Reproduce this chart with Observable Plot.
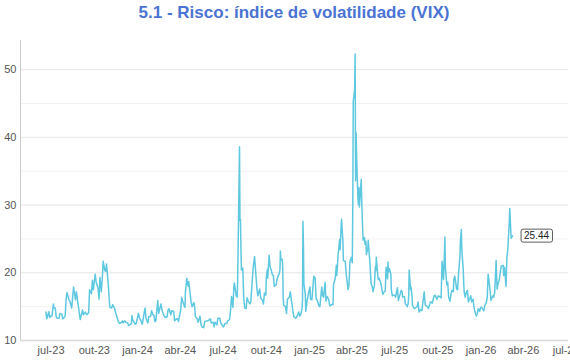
<!DOCTYPE html>
<html><head><meta charset="utf-8">
<script src="https://cdn.jsdelivr.net/npm/d3@7"></script>
<script src="https://cdn.jsdelivr.net/npm/@observablehq/plot@0.6"></script>
<style>
body{margin:0;background:#fff;font-family:"Liberation Sans",Arial,sans-serif;}
#title{height:30px;line-height:26px;margin-left:20px;width:548px;text-align:center;font-weight:bold;font-size:17px;color:#4b73d3;}
</style></head><body>
<div id="title">5.1 - Risco: índice de volatilidade (VIX)</div>
<div id="chart"></div>
<script>
const months = ["2023-06","2023-07","2023-08","2023-09","2023-10","2023-11","2023-12",
"2024-01","2024-02","2024-03","2024-04","2024-05","2024-06","2024-07","2024-08","2024-09","2024-10","2024-11","2024-12",
"2025-01","2025-02","2025-03","2025-04","2025-05","2025-06","2025-07","2025-08","2025-09","2025-10","2025-11","2025-12",
"2026-01","2026-02","2026-03"];
const days = [
[20,22,26,28,30],
[3,6,7,10,12,14,18,20,24,26,28,31],
[2,4,8,10,14,16,18,22,24,28,30],
[1,6,8,12,15,19,21,25,27,29],
[3,5,9,11,13,16,18,20,23,25,27,31],
[1,3,7,9,13,15,17,21,24,28,30],
[1,5,7,11,13,15,19,20,22,27,29],
[3,5,9,11,17,19,23,25,29,31],
[2,5,7,9,13,15,20,22,26,29],
[4,6,8,12,14,18,20,22,26,28],
[2,4,5,9,11,12,15,16,18,19,22,24,26,30],
[2,3,7,9,13,15,17,21,23,28,30],
[4,6,10,12,14,18,20,24,26,28],
[2,5,9,11,15,17,19,22,24,25,29,31],
[1,2,5,6,7,8,9,12,14,16,19,21,23,27,29],
[3,4,6,9,11,13,17,19,23,25,27,30],
[1,3,4,7,9,11,14,16,18,22,24,28,30,31],
[1,4,5,6,7,11,13,15,19,21,25,27,29],
[3,5,9,11,13,16,17,18,19,20,23,24,27,31],
[2,3,6,8,10,13,15,17,21,23,27,29,31],
[3,5,7,11,13,18,20,21,24,25,27,28],
[3,4,6,7,10,11,13,14,18,20,24,26,28,31],
[1,2,3,4,7,8,9,10,11,14,15,16,17,21,22,23,24,25,28,29,30],
[1,2,5,6,7,9,12,13,15,16,19,21,22,23,27,29],
[2,4,6,9,11,13,16,17,18,20,23,24,26,30],
[2,3,7,9,11,15,17,18,22,24,28,30,31],
[1,4,5,7,8,12,14,18,20,22,26,28],
[2,4,5,9,11,15,17,19,23,25,29,30],
[2,6,8,10,13,14,16,17,20,22,24,27,29,31],
[3,4,6,7,10,12,14,17,18,20,21,24,25,26,28],
[1,3,5,8,10,12,15,17,19,22,24,26,29,31],
[2,5,7,9,12,14,16,20,22,26,28,30],
[2,4,6,9,11,13,17,18,20,23,25,27],
[2,3,5,6,9]
];
const vix = [
[14.2,13.2,14.25,13.4,13.6],
[13.6,15.4,14.8,14.8,13.5,13.3,13.3,14.0,13.9,13.2,13.3,13.6],
[16.1,17.1,16.0,15.8,14.8,16.5,17.9,16.0,17.2,15.1,14.1],
[13.1,14.5,13.8,14.2,13.8,14.1,17.5,16.9,18.9,17.5],
[19.8,18.6,17.7,16.1,19.3,17.2,19.2,21.7,20.4,20.2,21.3,18.1],
[16.9,14.9,14.8,15.3,14.8,14.2,13.8,12.8,12.5,12.7,12.9],
[12.6,12.9,12.7,12.6,12.2,12.3,12.5,13.7,13.0,12.4,12.45],
[14.0,13.4,12.8,12.4,14.8,13.3,12.6,13.5,13.6,14.4],
[13.9,13.7,12.8,12.9,15.9,14.0,15.4,14.5,13.7,13.4],
[13.5,14.5,14.7,13.8,14.4,14.3,12.9,13.1,13.2,12.8],
[14.6,16.4,16.0,15.2,14.9,17.3,19.2,18.4,18.0,18.7,16.9,15.7,15.0,15.6],
[14.7,13.5,13.2,12.7,13.6,12.4,12.0,11.9,12.8,12.9,12.9],
[13.2,12.6,12.7,12.0,12.7,12.3,13.3,13.3,12.6,12.4],
[12.0,12.5,12.5,12.9,13.1,14.5,16.5,14.9,18.0,18.5,16.6,16.4],
[18.6,23.4,38.6,27.7,27.9,23.8,20.4,20.7,16.2,14.8,14.7,16.3,15.9,15.4,15.65],
[20.7,21.3,22.4,19.5,17.7,16.6,17.6,16.3,15.9,15.4,17.0,16.7],
[19.3,20.5,19.2,22.6,20.9,20.5,19.7,19.6,18.0,18.2,19.1,19.8,20.35,23.2],
[21.9,22.0,20.5,16.3,15.2,15.0,14.0,16.1,16.4,17.2,15.2,14.1,13.5],
[13.3,13.5,14.2,13.6,13.8,14.7,15.9,27.6,24.1,18.4,16.8,14.3,15.95,17.35],
[17.9,16.1,16.0,17.7,19.5,19.2,16.1,16.0,15.1,15.0,17.9,16.6,16.4],
[18.6,15.8,16.5,16.0,15.1,15.35,15.3,18.2,19.0,19.4,21.1,19.6],
[22.8,23.5,24.9,23.4,27.9,26.9,24.7,21.8,21.7,19.8,17.5,18.3,21.7,22.3],
[21.8,21.5,30.0,45.3,47.0,52.3,33.6,40.7,37.6,30.9,30.1,32.6,29.7,33.8,30.6,28.5,26.5,24.8,25.2,24.2,24.7],
[24.6,22.7,23.6,24.8,23.6,21.9,18.4,18.2,17.8,17.2,18.1,20.9,20.3,22.3,19.0,19.2],
[18.4,17.6,16.8,17.2,17.3,20.8,19.1,21.6,20.1,20.6,19.8,17.5,16.6,16.7],
[16.6,16.4,17.8,15.9,16.4,17.4,17.2,16.4,16.5,15.4,15.0,15.5,16.7],
[20.4,17.5,17.9,16.6,15.2,14.7,14.8,15.0,15.7,14.2,14.6,14.4],
[17.2,15.3,15.2,15.0,14.7,15.7,15.7,15.5,16.6,16.7,16.1,16.3],
[16.6,16.4,16.3,21.7,19.0,20.8,25.3,20.8,18.2,18.6,16.4,15.8,16.9,17.4],
[17.2,19.0,19.5,19.1,17.6,17.5,19.8,22.4,24.7,26.4,23.4,20.5,18.6,17.2,16.4],
[17.2,17.4,15.7,16.2,16.6,15.7,16.1,14.9,14.2,13.6,14.0,14.7,14.3,14.9],
[14.9,14.6,14.4,15.2,15.6,16.2,19.8,17.5,15.9,16.6,16.4,17.1],
[21.8,17.6,18.3,19.1,20.2,21.0,21.1,19.6,20.8,18.0,22.3,23.5],
[27.5,29.5,26.5,25.1,25.44]
];
const xTicks = ["2023-07-01","2023-10-01","2024-01-01","2024-04-01","2024-07-01","2024-10-01","2025-01-01","2025-04-01","2025-07-01","2025-10-01","2026-01-01","2026-04-01","2026-07-01"];
const monthNames = ["jan","fev","mar","abr","mai","jun","jul","ago","set","out","nov","dez"];
const yMajor = [10,20,30,40,50];
const yMinor = [15,25,35,45];
const xDomain = ["2023-04-27","2026-07-06"];
const yDomain = [10,54.3];

const rows = [];
months.forEach((m,i)=>{
  const d = days[i], v = vix[i];
  for (let j=0;j<Math.min(d.length,v.length);j++)
    rows.push({date:new Date(`${m}-${String(d[j]).padStart(2,"0")}T00:00:00Z`), vix:v[j]});
});
const last = rows[rows.length-1];
const xStart = new Date(xDomain[0]+"T00:00:00Z");

const chart = Plot.plot({
  width:570, height:330, marginTop:10, marginBottom:20, marginLeft:20, marginRight:2,
  style:{fontFamily:'"Liberation Sans",Arial,sans-serif', fontSize:"11px", background:"#fff", overflow:"visible"},
  x:{type:"utc", domain:xDomain.map(s=>new Date(s+"T00:00:00Z")), label:null},
  y:{domain:yDomain, label:null},
  marks:[
    Plot.ruleY(yMinor,{stroke:"#f2f2f2"}),
    Plot.ruleY(yMajor.filter(v=>v>10),{stroke:"#e6e6e6"}),
    Plot.ruleX([xStart],{stroke:"#cccccc"}),
    Plot.ruleY([10],{stroke:"#d9d9d9", strokeWidth:1.5}),
    Plot.axisY({ticks:yMajor, tickSize:0, tickPadding:4, fill:"#555", fontSize:11, label:null}),
    Plot.axisX({ticks:xTicks.map(s=>new Date(s+"T00:00:00Z")), tickSize:0, tickPadding:6, fill:"#555", fontSize:11, label:null,
      tickFormat:d=>monthNames[d.getUTCMonth()]+"-"+String(d.getUTCFullYear()%100).padStart(2,"0")}),
    Plot.line(rows,{x:"date", y:"vix", stroke:"#5ec8e0", strokeWidth:1.5}),
    Plot.text([last],{x:"date", y:"vix", text:d=>d.vix.toFixed(2), dx:24, fill:"#222", fontSize:10})
  ]
});
document.getElementById("chart").append(chart);
const t = chart.querySelector('g[aria-label="text"] text');
if (t) {
  const b = t.getBBox();
  const r = document.createElementNS("http://www.w3.org/2000/svg","rect");
  r.setAttribute("x", b.x-3); r.setAttribute("y", b.y-1);
  r.setAttribute("width", b.width+6); r.setAttribute("height", b.height+2);
  r.setAttribute("rx", 2); r.setAttribute("fill", "#fff"); r.setAttribute("stroke", "#333"); r.setAttribute("stroke-width", 0.8);
  if (t.getAttribute("transform")) r.setAttribute("transform", t.getAttribute("transform"));
  t.parentNode.insertBefore(r, t);
}
</script>
</body></html>
